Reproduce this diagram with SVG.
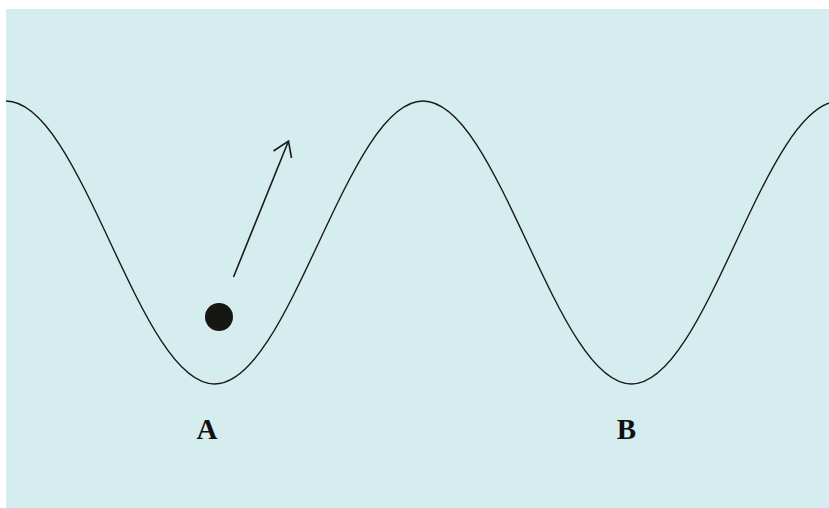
<svg xmlns="http://www.w3.org/2000/svg" width="829" height="508" viewBox="0 0 829 508">
  <style>
    .curve { fill: none; stroke: #1a1a1a; stroke-width: 1.4; }
    .arrow { fill: none; stroke: #1a1a1a; stroke-width: 1.6; stroke-linecap: butt; stroke-linejoin: miter; }
    .label { font-family: "Liberation Serif", "Times New Roman", serif; font-weight: bold; font-size: 29px; fill: #111111; text-anchor: middle; }
  </style>
  <defs>
    <clipPath id="bgclip"><rect x="6" y="9" width="823" height="499"/></clipPath>
  </defs>
  <rect id="background" x="6" y="9" width="823" height="499" fill="#d6edf0"/>
  <g id="wave" clip-path="url(#bgclip)">
    <path class="curve" d="M6,101 C43.73,101 76.25,170.01 110.25,242.5 C144.25,314.99 176.77,384 214.5,384 C252.23,384 284.75,314.99 318.75,242.5 C352.75,170.01 385.27,101 423,101 C460.73,101 493.25,170.01 527.25,242.5 C561.25,314.99 593.77,384 631.5,384 C669.23,384 701.75,314.99 735.75,242.5 C769.75,170.01 802.27,101 840,101"/>
  </g>
  <g id="ball">
    <circle cx="219" cy="317" r="14" fill="#161612"/>
  </g>
  <g id="connectors">
    <line class="arrow" x1="233.5" y1="277" x2="288.5" y2="141"/>
    <polyline class="arrow" points="273.5,151 288.5,141 291.5,158"/>
  </g>
  <g id="label-A"><text class="label" x="207" y="439">A</text></g>
  <g id="label-B"><text class="label" x="626.5" y="439">B</text></g>
</svg>
